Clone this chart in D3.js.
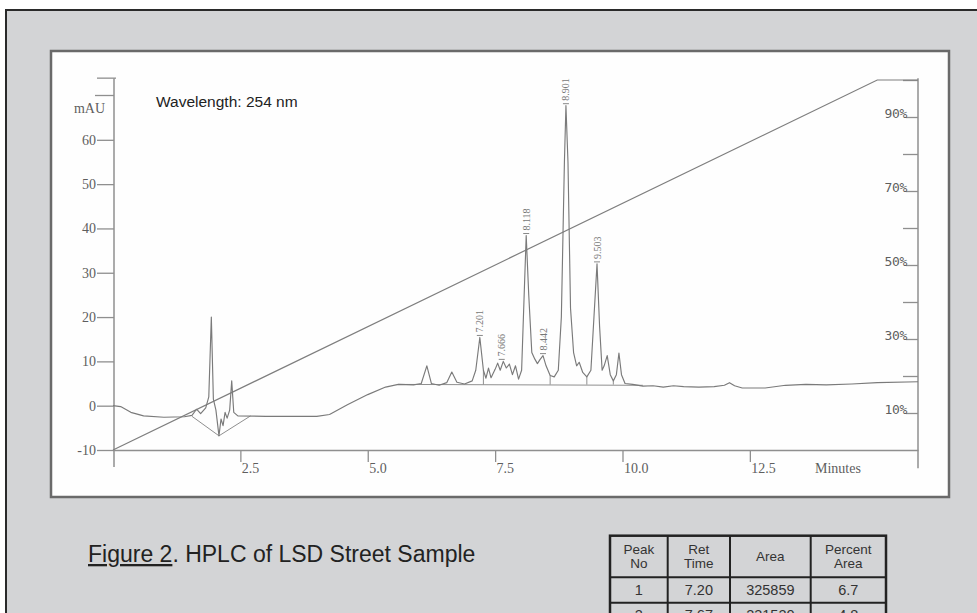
<!DOCTYPE html>
<html><head><meta charset="utf-8">
<script src="https://cdn.jsdelivr.net/npm/d3@7/dist/d3.min.js"></script>
<style>body{margin:0;background:#fff}svg{display:block}</style>
</head><body><svg id="c" width="977" height="613"></svg>
<script>
// ---- data ----
const yTickValues = [-10, 0, 10, 20, 30, 40, 50, 60];
const xTickValues = [2.5, 5.0, 7.5, 10.0, 12.5];
const pctMajorTicks = [10, 30, 50, 70, 90];
const pctMinorTicks = [20, 40, 60, 80, 100];
// chromatogram trace: [minutes, mAU]
const chromatogram = [
  [0,0],[0.15,-0.2],[0.35,-1.5],[0.6,-2.3],[1.0,-2.6],[1.4,-2.5],[1.55,-2.2],[1.64,-0.8],[1.72,-1.8],
  [1.82,-0.5],[1.88,2],[1.93,20],[1.97,1.5],[2.02,-1],[2.08,-6.8],[2.12,-3],[2.16,-4.5],[2.2,-1.5],
  [2.24,-2.8],[2.29,-1.0],[2.33,5.6],[2.37,-1.5],[2.45,-2.3],[3.0,-2.4],[4.0,-2.4],[4.25,-2.0],
  [4.6,0.2],[5.0,2.5],[5.35,4.2],[5.6,4.8],[5.9,4.7],[6.05,5.0],[6.16,9.0],[6.25,5.0],[6.4,4.6],
  [6.55,5.2],[6.65,7.6],[6.75,5.3],[6.9,4.9],[7.05,5.6],[7.12,8],[7.20,15.4],[7.27,8],[7.32,6.2],
  [7.37,8.5],[7.42,6.3],[7.5,8.2],[7.55,9.6],[7.6,8.0],[7.66,10.0],[7.72,8.5],[7.78,9.4],[7.84,7.0],
  [7.9,9.0],[7.96,6.0],[8.02,8],[8.07,25],[8.11,38.4],[8.16,25],[8.22,12],[8.28,10.5],[8.33,9.5],
  [8.38,10.4],[8.44,11.3],[8.5,9.0],[8.58,6.8],[8.66,6.5],[8.74,8],[8.8,20],[8.86,55],[8.89,67.7],
  [8.93,55],[8.98,22],[9.04,12],[9.1,9.0],[9.15,9.8],[9.22,7.5],[9.3,6.5],[9.38,8],[9.44,20],
  [9.50,32],[9.55,18],[9.6,8],[9.64,9],[9.7,11.3],[9.76,7],[9.82,5.6],[9.88,7],[9.93,11.9],
  [9.98,7],[10.05,5],[10.2,4.8],[10.4,4.4],[10.6,4.5],[10.8,4.2],[11.0,4.5],[11.2,4.3],[11.5,4.2],
  [11.8,4.3],[12.0,4.6],[12.1,5.2],[12.2,4.5],[12.35,4.0],[12.8,4.0],[13.2,4.6],[13.6,4.8],
  [14.0,4.7],[14.5,4.9],[15.0,5.2],[15.8,5.4]
];
// gradient program: [minutes, %B]
const gradient = [[0,0],[15,100],[15.8,100]];
// integration baselines
const baselineV = [[1.55,-2.4],[2.08,-6.8],[2.7,-2.3]];
const baselineMid = [[5.6,4.8],[10.4,4.6]];
const dropLines = [[7.27,8],[8.58,6.8],[9.3,6.5],[9.82,5.6]];
// labelled peaks
const peakTimes = [7.20, 7.63, 8.11, 8.44, 8.89, 9.50];
const peakHeights = [15.4, 10.0, 38.4, 11.3, 67.7, 32];
const peakLabels = ["7.201", "7.666", "8.118", "8.442", "8.901", "9.503"];
// table
const tableHeaders = [["Peak","No"],["Ret","Time"],["Area"],["Percent","Area"]];
const peakNo = ["1","2"];
const retTime = ["7.20","7.67"];
const area = ["325859","231520"];
const percentArea = ["6.7","4.8"];

// ---- drawing ----
const svg = d3.select("#c");
const gray = "#d3d4d6";
svg.append("rect").attr("x",6).attr("y",10).attr("width",1000).attr("height",700)
  .attr("fill",gray).attr("stroke","#2a2a2a").attr("stroke-width",2);
svg.append("rect").attr("x",51).attr("y",51).attr("width",898).attr("height",446)
  .attr("fill","#fefefe").attr("stroke","#6a6a6a").attr("stroke-width",2.5);

const x = d3.scaleLinear().domain([0,15.8]).range([113,918]);
const y = d3.scaleLinear().domain([-10,70]).range([450,95.5]);
const yPct = d3.scaleLinear().domain([0,100]).range([450,80]);
const axisCol = "#8f8f8f", textCol = "#5e5e5e";
const serif = "'Liberation Serif','Times New Roman',serif";

// left axis
const gy = svg.append("g").attr("transform",`translate(${x(0)+1},0)`)
  .call(d3.axisLeft(y).tickValues(yTickValues).tickSize(17).tickPadding(1).tickFormat(d=>String(d)));
gy.select(".domain").remove();
gy.selectAll("line").attr("stroke",axisCol).attr("stroke-width",1.3);
gy.selectAll("text").attr("fill",textCol).style("font-family",serif).style("font-size","14px");
svg.append("line").attr("x1",x(0)+1).attr("x2",x(0)+1).attr("y1",yPct(100.5)).attr("y2",yPct(-4.6))
  .attr("stroke",axisCol).attr("stroke-width",1.5);
svg.append("line").attr("x1",x(0)+1-19).attr("x2",x(0)+1).attr("y1",y(70)).attr("y2",y(70))
  .attr("stroke",axisCol).attr("stroke-width",1.3);
svg.append("line").attr("x1",x(0)+1-17).attr("x2",x(0)+3).attr("y1",yPct(100.5)).attr("y2",yPct(100.5))
  .attr("stroke",axisCol).attr("stroke-width",1.3);
svg.append("text").attr("x",105).attr("y",113).attr("text-anchor","end")
  .attr("fill",textCol).style("font-family",serif).style("font-size","14px").text("mAU");

// bottom axis
const gx = svg.append("g").attr("transform",`translate(0,${y(-10)})`)
  .call(d3.axisBottom(x).tickValues(xTickValues).tickSize(12).tickSizeOuter(0).tickFormat(d3.format(".1f")));
gx.select(".domain").attr("stroke",axisCol).attr("stroke-width",1.5);
gx.selectAll("line").attr("stroke",axisCol).attr("stroke-width",1.3);
gx.selectAll("text").attr("fill",textCol).style("font-family",serif).style("font-size","14px")
  .attr("text-anchor","start").attr("x",1).attr("y",23).attr("dy",0);
svg.append("text").attr("x",815).attr("y",473).attr("fill",textCol)
  .style("font-family",serif).style("font-size","14px").text("Minutes");

// right axis
const rx = x(15.8);
svg.append("line").attr("x1",rx).attr("x2",rx).attr("y1",yPct(100.5)).attr("y2",yPct(-4.9))
  .attr("stroke",axisCol).attr("stroke-width",1.5);
const gr1 = svg.append("g").attr("transform",`translate(${rx},0)`)
  .call(d3.axisLeft(yPct).tickValues(pctMajorTicks).tickSize(12).tickPadding(0).tickFormat(d=>d+"%"));
gr1.select(".domain").remove();
gr1.selectAll("line").attr("stroke",axisCol).attr("stroke-width",1.3);
gr1.selectAll("text").attr("fill",textCol).attr("dy",0).attr("x",-11)
  .style("font-family","'DejaVu Sans Mono',monospace").style("font-size","13px").style("letter-spacing","-0.3px");
const gr2 = svg.append("g").attr("transform",`translate(${rx},0)`)
  .call(d3.axisLeft(yPct).tickValues(pctMinorTicks).tickSize(15).tickFormat(""));
gr2.select(".domain").remove();
gr2.selectAll("line").attr("stroke",axisCol).attr("stroke-width",1.3);

// gradient line
const line = d3.line().x(d=>x(d[0])).y(d=>yPct(d[1]));
svg.append("path").datum(gradient).attr("d",line).attr("fill","none")
  .attr("stroke","#7e7e7e").attr("stroke-width",1.2);

// integration baselines
const tl = d3.line().x(d=>x(d[0])).y(d=>y(d[1]));
svg.append("path").datum(baselineV).attr("d",tl).attr("fill","none").attr("stroke","#8f8f8f").attr("stroke-width",1);
svg.append("path").datum(baselineMid).attr("d",tl).attr("fill","none").attr("stroke","#8f8f8f").attr("stroke-width",1);
svg.selectAll(".drop").data(dropLines).join("line")
  .attr("x1",d=>x(d[0])).attr("x2",d=>x(d[0])).attr("y1",d=>y(d[1])).attr("y2",y(4.75))
  .attr("stroke","#8f8f8f").attr("stroke-width",1);

// trace
svg.append("path").datum(chromatogram).attr("d",tl).attr("fill","none")
  .attr("stroke","#7a7a7a").attr("stroke-width",1.15).attr("stroke-linejoin","round");

// peak labels
peakTimes.forEach((t,i)=>{
  const px = x(t), py = y(peakHeights[i]);
  svg.append("line").attr("x1",px-3).attr("x2",px+3).attr("y1",py-2).attr("y2",py-2)
    .attr("stroke","#888").attr("stroke-width",1);
  svg.append("text").attr("transform",`translate(${px+3.5},${py-5}) rotate(-90)`)
    .attr("fill","#777").style("font-family",serif).style("font-size","10px").text(peakLabels[i]);
});

// wavelength
svg.append("text").attr("x",156).attr("y",107).attr("fill","#222")
  .style("font-family","'Liberation Sans',Arial,sans-serif").style("font-size","15.5px").text("Wavelength: 254 nm");

// caption
const cap = svg.append("text").attr("x",88).attr("y",562).attr("fill","#222")
  .style("font-family","'Liberation Sans',Arial,sans-serif").style("font-size","23px");
cap.append("tspan").attr("text-decoration","underline").text("Figure 2");
cap.append("tspan").text(". HPLC of LSD Street Sample");

// table
const colEdges = [610, 667.7, 730, 810.7, 886];
const rowEdges = [535.7, 577.3, 602.7, 628.1];
const tg = svg.append("g").style("font-family","'Liberation Sans',Arial,sans-serif").attr("fill","#333");
tg.append("rect").attr("x",colEdges[0]).attr("y",rowEdges[0])
  .attr("width",colEdges[4]-colEdges[0]).attr("height",rowEdges[3]-rowEdges[0])
  .attr("fill",gray).attr("stroke","#222").attr("stroke-width",2.5);
colEdges.slice(1,4).forEach(cx=>tg.append("line").attr("x1",cx).attr("x2",cx)
  .attr("y1",rowEdges[0]).attr("y2",rowEdges[3]).attr("stroke","#222").attr("stroke-width",2));
rowEdges.slice(1,3).forEach(ry=>tg.append("line").attr("y1",ry).attr("y2",ry)
  .attr("x1",colEdges[0]).attr("x2",colEdges[4]).attr("stroke","#222").attr("stroke-width",2));
tableHeaders.forEach((h,i)=>{
  const cx=(colEdges[i]+colEdges[i+1])/2, cy=(rowEdges[0]+rowEdges[1])/2;
  h.forEach((s,j)=>{
    const off = h.length===1 ? 0 : (j===0?-7.2:7.2);
    tg.append("text").attr("x",cx).attr("y",cy+off).attr("dy","0.35em").attr("text-anchor","middle")
      .style("font-size","13.5px").text(s);
  });
});
const rows = peakNo.map((p,i)=>[p,retTime[i],area[i],percentArea[i]]);
rows.forEach((r,ri)=>{
  const cy=(rowEdges[ri+1]+rowEdges[ri+2])/2;
  r.forEach((s,i)=>{
    tg.append("text").attr("x",(colEdges[i]+colEdges[i+1])/2).attr("y",cy).attr("dy","0.35em")
      .attr("text-anchor","middle").style("font-size","14.5px").text(s);
  });
});
</script>
</body></html>
